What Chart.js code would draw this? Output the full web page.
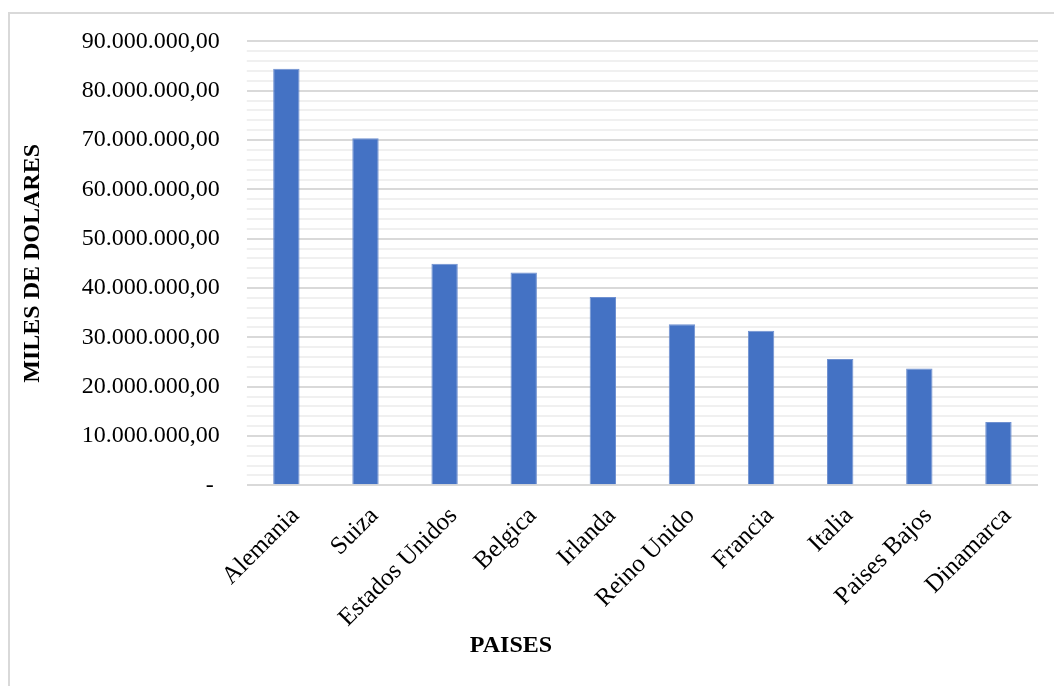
<!DOCTYPE html>
<html>
<head>
<meta charset="utf-8">
<script src="https://cdn.jsdelivr.net/npm/chart.js@4.4.1/dist/chart.umd.min.js"></script>
<style>
  html, body { margin: 0; padding: 0; background: #fff; overflow: hidden; }
  #marco { position: absolute; left: 8px; top: 12px; width: 1100px; height: 720px; border: 2px solid #d9d9d9; }
  #caja { position: absolute; left: 0; top: 0; width: 1054px; height: 686px; }
</style>
</head>
<body>
<div id="marco"></div>
<div id="caja"><canvas id="grafico"></canvas></div>
<script>
const paises = ["Alemania", "Suiza", "Estados Unidos", "Belgica", "Irlanda",
                "Reino Unido", "Francia", "Italia", "Paises Bajos", "Dinamarca"];
const milesDolares = [84450000, 70350000, 44900000, 43150000, 38200000,
                      32650000, 31350000, 25600000, 23700000, 12850000];
const etiquetasY = ["- ", "10.000.000,00", "20.000.000,00", "30.000.000,00", "40.000.000,00",
                    "50.000.000,00", "60.000.000,00", "70.000.000,00", "80.000.000,00", "90.000.000,00"];

const serif = '"Liberation Serif", "Times New Roman", serif';

// titulo del eje X dibujado a mano (va corrido a la izquierda)
const tituloPaises = {
    id: "tituloPaises",
    afterDraw(chart) {
        const ctx = chart.ctx;
        ctx.save();
        ctx.font = "bold 24px " + serif;
        ctx.fillStyle = "#000";
        ctx.textAlign = "center";
        ctx.textBaseline = "middle";
        ctx.fillText("PAISES", 511, 646);
        ctx.restore();
    }
};

const grafico = new Chart(document.getElementById("grafico"), {
    type: "bar",
    data: {
        labels: paises,
        datasets: [{
            label: "Miles de dolares",
            data: milesDolares,
            backgroundColor: "#4472c4",
            borderColor: "#6f90d0",
            borderWidth: 1,
            barPercentage: 1 / 3,
            categoryPercentage: 1
        }]
    },
    options: {
        responsive: true,
        maintainAspectRatio: false,
        animation: false,
        layout: {
            padding: { left: 8, right: 16, top: 30, bottom: 45 }
        },
        plugins: {
            legend: { display: false },
            tooltip: { enabled: false }
        },
        scales: {
            x: {
                grid: { display: false },
                border: { display: false },
                ticks: {
                    color: "#000",
                    font: { family: serif, size: 25 },
                    minRotation: 45,
                    maxRotation: 45,
                    autoSkip: false,
                    padding: 8,
                    labelOffset: 9
                }
            },
            y: {
                min: 0,
                max: 90000000,
                border: { display: false },
                grid: { color: "#d9d9d9", lineWidth: 2, drawTicks: false },
                ticks: {
                    stepSize: 10000000,
                    color: "#000",
                    font: { family: serif, size: 24 },
                    padding: 27,
                    callback: (v) => etiquetasY[Math.round(v / 10000000)]
                },
                title: {
                    display: true,
                    text: "MILES DE DOLARES",
                    color: "#000",
                    font: { family: serif, size: 24, weight: "bold" },
                    padding: { top: 10, bottom: 8 }
                }
            },
            // lineas secundarias cada 2 millones
            yMenor: {
                position: "right",
                min: 0,
                max: 90000000,
                border: { display: false },
                grid: {
                    drawTicks: false,
                    lineWidth: 2,
                    color: (c) => (c.tick && c.tick.value % 10000000 === 0) ? "rgba(0,0,0,0)" : "#f0f0f0"
                },
                ticks: { display: false, stepSize: 2000000, maxTicksLimit: 100 }
            }
        }
    },
    plugins: [tituloPaises]
});
</script>
</body>
</html>
